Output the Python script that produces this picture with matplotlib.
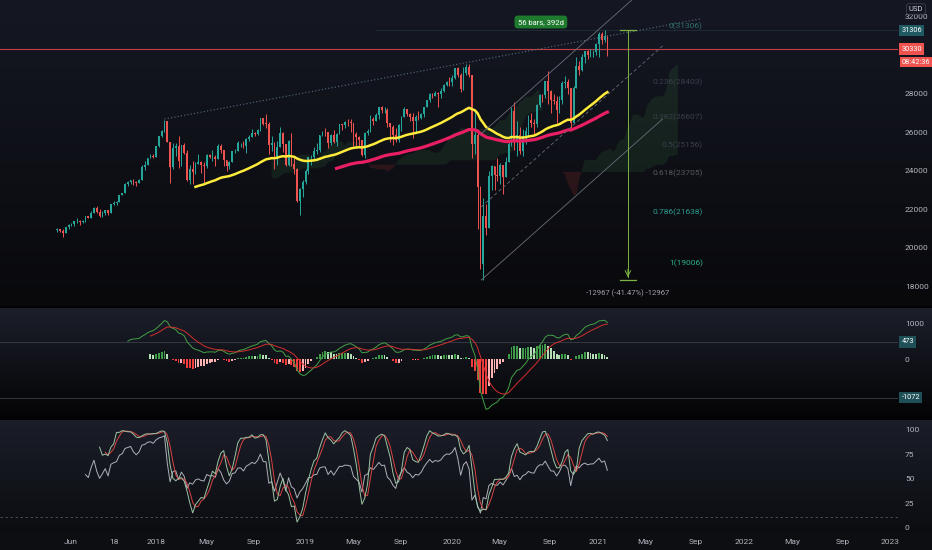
import numpy as np
import pandas as pd
import matplotlib
matplotlib.use('Agg')
import matplotlib.pyplot as plt
import matplotlib.dates as mdates

plt.rcParams['font.family'] = ['Liberation Sans Narrow', 'Roboto', 'DejaVu Sans']

# weekly futures candles, week starting 2017-05-01
first_open = 20940
closes = [
    21007, 20897, 20804, 21080, 21206, 21271, 21384, 21394, 21350, 21414,
    21638, 21580, 21830, 22092, 21858, 21674, 21813, 21988, 21798, 22268,
    22349, 22405, 22773, 22871, 23329, 23434, 23539, 23422, 23358, 23557,
    24231, 24329, 24651, 24754, 24719, 25295, 25803, 26071, 26616, 25521,
    24190, 25219, 25309, 24538, 25335, 24946, 23533, 24103, 23933, 24360,
    24463, 24311, 24263, 24831, 24715, 24753, 24635, 25317, 25090, 24581,
    24271, 24456, 25019, 25058, 25451, 25463, 25313, 25669, 25790, 25965,
    25917, 26154, 26743, 26458, 26447, 25340, 25444, 24688, 25270, 25989,
    25413, 24286, 25538, 24389, 24100, 22445, 23062, 23433, 23996, 24706,
    24737, 25064, 25106, 25883, 26031, 26026, 25450, 25849, 25502, 25929,
    26425, 26412, 26559, 26543, 26505, 25942, 25764, 25586, 24815, 25984,
    26090, 26719, 26600, 26922, 27332, 27154, 27192, 26485, 26287, 25886,
    25629, 26403, 26797, 27220, 26935, 26820, 26573, 26817, 26770, 26958,
    27347, 27681, 28005, 27876, 28051, 28015, 28135, 28455, 28645, 28634,
    28823, 29348, 28989, 28256, 29102, 29398, 28992, 25409, 25864, 23186,
    19174, 21637, 21053, 23719, 24242, 23775, 23724, 24331, 23685, 24465,
    25383, 27111, 25606, 25871, 25016, 25827, 26075, 26672, 26470, 26428,
    27433, 27931, 27930, 28654, 28133, 27666, 27657, 27174, 27683, 28587,
    28606, 28336, 26502, 28323, 29480, 29263, 29910, 30218, 30046, 30179,
    30200, 30606, 31098, 30814, 30997, 30330]
highs = [
    21057, 21012, 20994, 21112, 21225, 21305, 21392, 21535, 21475, 21480,
    21681, 21681, 21929, 22118, 22179, 22036, 21900, 21996, 21990, 22275,
    22419, 22416, 22778, 22880, 23368, 23485, 23557, 23602, 23460, 23602,
    24327, 24534, 24668, 24876, 24871, 25300, 25810, 26153, 26670, 26608,
    25520, 25432, 25430, 25800, 25340, 25450, 25090, 24300, 24540, 24480,
    24860, 24540, 24470, 24870, 24900, 25090, 24830, 25400, 25400, 25080,
    24580, 24500, 25030, 25150, 25550, 25470, 25580, 25700, 25860, 26170,
    26000, 26200, 26770, 26670, 26950, 26530, 25830, 25500, 25550, 26280,
    26000, 25200, 25600, 25980, 24710, 24130, 23140, 23520, 24100, 24750,
    24820, 25250, 25440, 25890, 26090, 26240, 26000, 25900, 26110, 25950,
    26430, 26450, 26580, 26700, 26700, 26350, 26000, 25800, 25500, 26000,
    26200, 26900, 26800, 27000, 27340, 27400, 27300, 27250, 26500, 26400,
    26250, 26430, 26850, 27300, 27200, 27000, 27000, 26900, 27100, 27000,
    27350, 27700, 28040, 28050, 28180, 28080, 28300, 28500, 28700, 28900,
    29000, 29370, 29400, 29100, 29400, 29560, 29570, 29000, 27100, 26000,
    23200, 22600, 22300, 24000, 24300, 24000, 24700, 24400, 24300, 24750,
    25600, 27300, 27580, 26600, 26300, 26200, 26300, 26900, 27000, 26700,
    27500, 28000, 28000, 28700, 29200, 28200, 28000, 27900, 27900, 28650,
    28950, 28800, 28300, 28400, 29900, 29700, 30100, 30250, 30300, 30330,
    30300, 30650, 31200, 31200, 31306, 31050]
lows = [
    20850, 20830, 20553, 20820, 20980, 21120, 21150, 21300, 21197, 21320,
    21360, 21550, 21570, 21840, 21800, 21600, 21600, 21700, 21710, 21830,
    22250, 22230, 22400, 22750, 22900, 23200, 23350, 23250, 23240, 23370,
    23520, 24070, 24320, 24680, 24700, 24810, 25250, 25780, 26050, 25490,
    23360, 24080, 24760, 24130, 24280, 24860, 23500, 23340, 23340, 23830,
    24420, 23900, 23340, 24170, 24650, 24500, 24240, 24700, 24940, 24270,
    23990, 24100, 24570, 24960, 25050, 25230, 25170, 24960, 25560, 25860,
    25800, 25870, 26060, 26380, 26250, 24900, 25060, 24120, 24300, 25300,
    24970, 24250, 24270, 24240, 23870, 22390, 21710, 22640, 23350, 23850,
    24300, 24530, 24880, 25000, 25800, 25800, 25200, 25350, 25470, 25300,
    25930, 26140, 26250, 26320, 26000, 25300, 25200, 25300, 24780, 24700,
    25850, 26050, 26400, 26600, 26700, 27000, 27000, 26300, 25500, 25340,
    25500, 25500, 26100, 26800, 26850, 26600, 25740, 26000, 26650, 26700,
    26800, 27300, 27600, 27800, 27900, 27300, 27800, 28100, 28400, 28400,
    28400, 28800, 28900, 28100, 28200, 29000, 28900, 24700, 24900, 21000,
    18900, 18339, 20700, 21500, 23000, 23000, 23500, 23300, 22800, 23900,
    24600, 25300, 25100, 24800, 24900, 24800, 25400, 25800, 26300, 25900,
    26300, 27300, 27600, 27800, 27500, 27000, 27500, 26500, 27000, 27500,
    28300, 28000, 26100, 26500, 28300, 29000, 29200, 29600, 29800, 29900,
    29900, 30000, 29900, 30600, 30700, 29950]

x_labels = ["Jun", "18", "2018", "May", "Sep", "2019", "May", "Sep", "2020",
            "May", "Sep", "2021", "May", "Sep", "2022", "May", "Sep", "2023"]
x_label_dates = ["2017-06-04", "2017-09-19", "2018-01-01", "2018-05-05", "2018-09-01",
                 "2019-01-06", "2019-05-05", "2019-09-01", "2020-01-05", "2020-05-01",
                 "2020-09-05", "2021-01-02", "2021-04-28", "2021-09-02", "2021-12-30",
                 "2022-04-28", "2022-09-02", "2022-12-27"]

price_ticks = [18000, 20000, 22000, 24000, 26000, 28000, 32000]
last_price = 30330
high_price = 31306
countdown = "08:42:36"
macd_marks = [473, -1072]
fib_high, fib_low = 31306, 19006
fib_levels = [0, 0.236, 0.382, 0.5, 0.618, 0.786, 1]
fib_colors = ['#2f6f6c', '#3b3f49', '#3b3f49', '#3b3f49', '#55585f', '#2a9d8f', '#2bb08a']
measure_top, measure_bottom = 31306, 18339
measure_text = "-12967 (-41.47%) -12967"
range_text = "56 bars, 392d"

# drawings (date, price)
trend_start = ("2018-01-22", 26700)
trend_end = ("2021-09-12", 31900)
chan_start = ("2020-03-18", 18339)
chan_end = ("2021-06-11", 26700)
chan_width = 7600

up_c, dn_c = '#26a69a', '#ef5350'

dates = pd.date_range('2017-05-01', periods=len(closes), freq='W-MON')
x = mdates.date2num(dates)
c = np.array(closes, float)
h = np.array(highs, float)
l = np.array(lows, float)
o = np.r_[first_open, c[:-1]]
h = np.maximum(h, np.maximum(o, c))
l = np.minimum(l, np.minimum(o, c))

ref = mdates.date2num(pd.Timestamp('2018-01-01'))
k = 0.403  # px per day
xlim = (ref - 156 / k, ref + 742 / k)

fig = plt.figure(figsize=(9.32, 5.5), dpi=100)

# background gradients
def grad(a, b, n):
    a = np.array(matplotlib.colors.to_rgb(a)); b = np.array(matplotlib.colors.to_rgb(b))
    t = np.linspace(0, 1, n)[:, None]
    return a * (1 - t) + b * t
rows = np.vstack([grad('#151823', '#09090c', 306), grad('#020203', '#020203', 2),
                  grad('#1c1f2b', '#040405', 109), grad('#020203', '#020203', 3),
                  grad('#1b1e29', '#0c0d11', 112), grad('#0d0e12', '#0d0e12', 18)])
bgax = fig.add_axes([0, 0, 1, 1], zorder=-5)
bgax.imshow(rows[:, None, :], aspect='auto', extent=(0, 1, 0, 1))
bgax.axis('off')

W, H = 932, 550
def pane(top, bot):
    ax = fig.add_axes([0, 1 - bot / H, 898 / W, (bot - top) / H])
    ax.set_facecolor('none')
    for s in ax.spines.values():
        s.set_visible(False)
    ax.set_xlim(*xlim)
    ax.yaxis.tick_right()
    ax.tick_params(axis='y', length=0, pad=5, labelsize=6, labelcolor='#b2b5be')
    ax.tick_params(axis='x', length=0, labelbottom=False)
    return ax

ax = pane(0, 306)
ax.set_ylim(16987, 32883)
ax2 = pane(308, 417)
ax2.set_ylim(-1611, 1417)
ax3 = pane(420, 532)
ax3.set_ylim(-4.1, 110.2)

# ichimoku cloud
s = pd.DataFrame({'h': h, 'l': l})
tenkan = (s.h.rolling(9).max() + s.l.rolling(9).min()) / 2
kijun = (s.h.rolling(26).max() + s.l.rolling(26).min()) / 2
span_a = ((tenkan + kijun) / 2).values
span_b = ((s.h.rolling(52).max() + s.l.rolling(52).min()) / 2).values
fut = pd.date_range(dates[0], periods=len(closes) + 25, freq='W-MON')
xc = mdates.date2num(fut[25:])
ok = ~np.isnan(span_b)
ax.fill_between(xc[ok], span_a[ok], span_b[ok], where=span_a[ok] >= span_b[ok],
                color='#4caf50', alpha=0.11, lw=0, interpolate=True)
ax.fill_between(xc[ok], span_a[ok], span_b[ok], where=span_a[ok] < span_b[ok],
                color='#f44336', alpha=0.13, lw=0, interpolate=True)

# candles
cols = np.where(c >= o, up_c, dn_c)
ax.vlines(x, l, h, colors=cols, lw=0.7, zorder=3)
ax.bar(x, np.maximum(np.abs(c - o), 25), bottom=np.minimum(o, c), width=4.2, color=cols, zorder=3)

# moving averages (ema, sma seed)
def ema(v, n):
    out = np.full(len(v), np.nan)
    out[n - 1] = v[:n].mean()
    a = 2 / (n + 1)
    for i in range(n, len(v)):
        out[i] = a * v[i] + (1 - a) * out[i - 1]
    return out
ax.plot(x, ema(c, 50), color='#ffeb3b', lw=1.8, zorder=4)
ax.plot(x, ema(c, 100), color='#e91e63', lw=2.3, zorder=4)

# price lines
ax.axhline(last_price, color='#d9434b', lw=0.8, alpha=0.9, zorder=2)
ax.plot([mdates.date2num(pd.Timestamp('2019-07-01')), xlim[1]], [high_price] * 2,
        color='#5b8f93', lw=0.5, alpha=0.25)

# trend line
tx = mdates.date2num(pd.to_datetime([trend_start[0], trend_end[0]]))
ax.plot(tx, [trend_start[1], trend_end[1]], color='#55707c', lw=0.8, ls=(0, (1, 2)), zorder=5)

# parallel channel
cx = mdates.date2num(pd.to_datetime([chan_start[0], chan_end[0]]))
cy = np.array([chan_start[1], chan_end[1]], float)
ax.plot(cx, cy, color='#6a6d78', lw=0.6, zorder=5)
ax.plot(cx, cy + chan_width, color='#6a6d78', lw=0.6, zorder=5)
ax.plot(cx, cy + chan_width / 2, color='#6a6d78', lw=0.6, ls=(0, (4, 3)), zorder=5)

# fib labels
fx = mdates.date2num(pd.Timestamp('2021-09-19'))
for lv, fc in zip(fib_levels, fib_colors):
    p = fib_high - lv * (fib_high - fib_low)
    ax.text(fx, p, "%g(%d)" % (lv, round(p)), color=fc, fontsize=6, ha='right', va='bottom', zorder=6)

# measure
mx = mdates.date2num(pd.Timestamp('2021-03-17'))
mcol = '#7cb342'
ax.plot([mx, mx], [measure_top, measure_bottom + 150], color=mcol, lw=0.7, zorder=6)
ax.plot([mx - 20, mx + 20], [measure_top] * 2, color=mcol, lw=0.9, zorder=6)
ax.plot([mx - 20, mx + 20], [measure_bottom] * 2, color=mcol, lw=0.9, zorder=6)
ax.annotate('', xy=(mx, measure_bottom), xytext=(mx, measure_bottom + 700),
            arrowprops=dict(arrowstyle='->', color=mcol, lw=0.7), zorder=6)
ax.text(mx, 17662, measure_text, color='#a0a3ac', fontsize=5.5, ha='center', va='center')
ax.text(mdates.date2num(pd.Timestamp('2020-08-13')), 31740, range_text, color='white', fontsize=5.5,
        ha='center', va='center', bbox=dict(boxstyle='round,pad=0.45', fc='#1e7a2d', ec='none'), zorder=7)

# price axis
ax.set_yticks(price_ticks)
ax.set_yticklabels([str(v) for v in price_ticks])
yt = ax.get_yaxis_transform()
box_kw = dict(transform=yt, color='white', fontsize=5.3, ha='left', va='center', clip_on=False)
ax.text(1.004, high_price, str(high_price), bbox=dict(boxstyle='square,pad=0.3', fc='#1f5a62', ec='none'), **box_kw)
ax.text(1.004, last_price, str(last_price), bbox=dict(boxstyle='square,pad=0.3', fc='#ef5350', ec='none'), **box_kw)
ax.text(1.004, 29662, countdown, bbox=dict(boxstyle='square,pad=0.25', fc='#ef5350', ec='none'), **box_kw)
fig.text(916 / W, 1 - 9 / H, "USD", color='#d1d4dc', fontsize=5.5, ha='center', va='center',
         bbox=dict(boxstyle='round,pad=0.3', fc='#141722', ec='#3a3e4a', lw=0.6))

# MACD
cs = pd.Series(c)
fast = cs.ewm(span=12, adjust=False).mean()
slow = cs.ewm(span=26, adjust=False).mean()
macd = fast - slow
macd[:25] = np.nan
sig = macd.ewm(span=9, adjust=False).mean()
sig[:33] = np.nan
hist = macd - sig
hv = hist.values
prev = np.r_[np.nan, hv[:-1]]
hcol = np.where(hv >= 0, np.where(hv >= prev, '#3f9d4a', '#b7dfb7'),
                np.where(hv < prev, '#f23d3d', '#ffb4b4'))
okh = ~np.isnan(hv)
ax2.bar(x[okh], hv[okh], width=4.6, color=hcol[okh], zorder=3)
ax2.plot(x, macd, color='#43a047', lw=0.7, zorder=4)
ax2.plot(x, sig, color='#d32f2f', lw=0.7, zorder=4)
for v in macd_marks:
    ax2.axhline(v, color='#3a3e48', lw=0.6)
ax2.set_yticks([0, 1000])
ax2.set_yticklabels(['0', '1000'])
yt2 = ax2.get_yaxis_transform()
for v in macd_marks:
    ax2.text(1.004, v, str(v), transform=yt2, color='white', fontsize=5.3, ha='left', va='center',
             bbox=dict(boxstyle='square,pad=0.3', fc='#1f4f57', ec='none'), clip_on=False)

# RSI / stochastic
d = cs.diff()
up = d.clip(lower=0).ewm(alpha=1 / 10, adjust=False).mean()
dn = (-d.clip(upper=0)).ewm(alpha=1 / 10, adjust=False).mean()
rsi = 100 - 100 / (1 + up / dn)
rsi[:10] = np.nan
ll = s.l.rolling(14).min()
hh = s.h.rolling(14).max()
stk = (100 * (cs - ll) / (hh - ll)).rolling(3).mean()
std = stk.rolling(3).mean()
ax3.plot(x, rsi, color='#c9ccd4', lw=0.7, alpha=0.85, zorder=4)
ax3.plot(x, std, color='#d84343', lw=0.7, zorder=4)
ax3.plot(x, stk, color='#9cc3a3', lw=0.7, zorder=5)
ax3.axhline(11, color='#50545e', lw=0.6, ls=(0, (3, 3)))
ax3.set_yticks([0, 25, 50, 75, 100])
ax3.set_yticklabels(['0', '25', '50', '75', '100'])

ax3.set_xticks(mdates.date2num(pd.to_datetime(x_label_dates)))
ax3.set_xticklabels(x_labels)
ax3.tick_params(axis='x', labelbottom=True, labelsize=6, labelcolor='#b2b5be', pad=5)

fig.savefig('out.png', dpi=100, facecolor='#0d0e12')
